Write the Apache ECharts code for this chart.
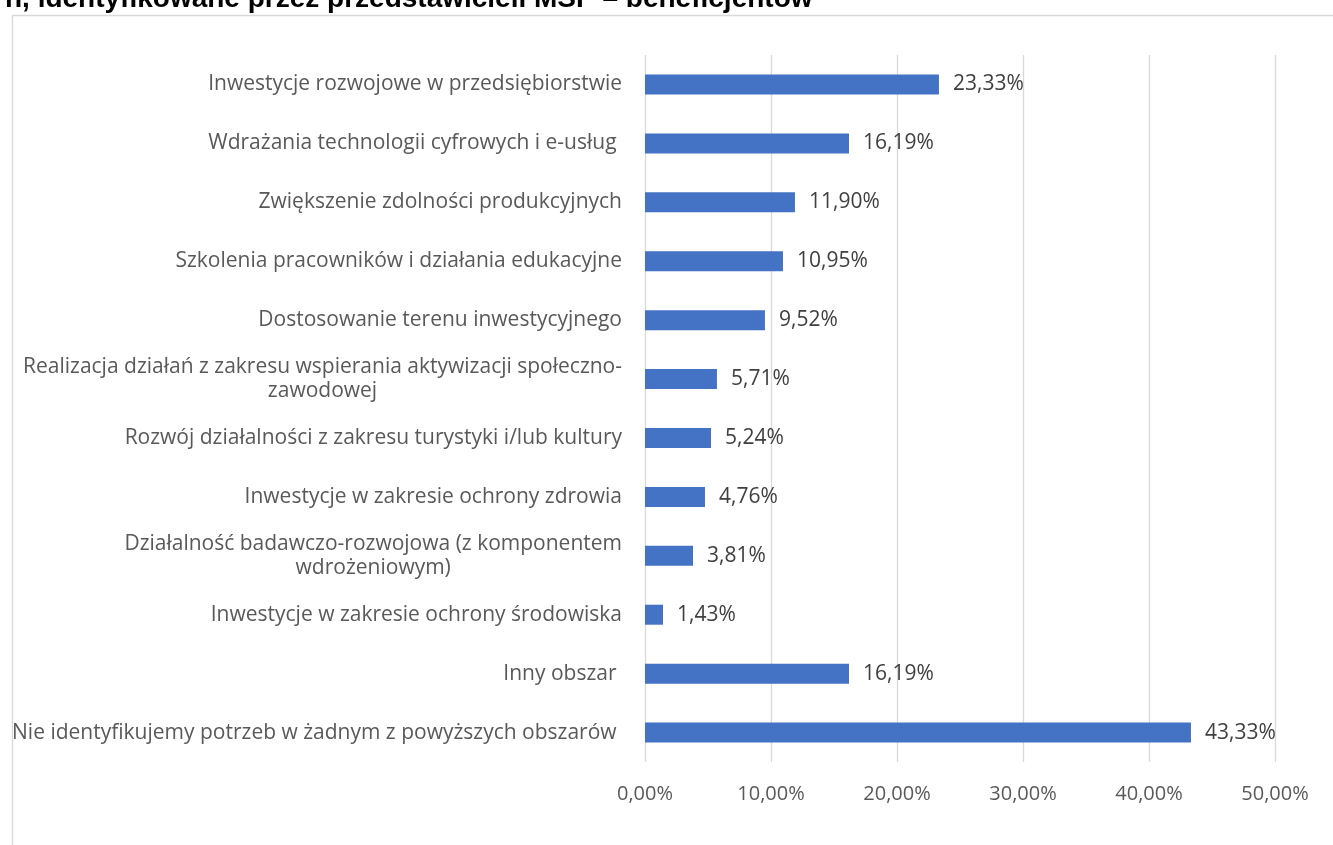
<!DOCTYPE html>
<html>
<head>
<meta charset="utf-8">
<script src="https://cdn.jsdelivr.net/npm/echarts@6/dist/echarts.min.js"></script>
<style>
  html, body { margin: 0; padding: 0; background: #fff; }
  #main { width: 1333px; height: 845px; }
</style>
</head>
<body>
<div id="main"></div>
<script>
// kategorie od góry do dołu
var categories = [
    'Inwestycje rozwojowe w przedsiębiorstwie',
    'Wdrażania technologii cyfrowych i e-usług ',
    'Zwiększenie zdolności produkcyjnych',
    'Szkolenia pracowników i działania edukacyjne',
    'Dostosowanie terenu inwestycyjnego',
    'Realizacja działań z zakresu wspierania aktywizacji społeczno-\nzawodowej',
    'Rozwój działalności z zakresu turystyki i/lub kultury',
    'Inwestycje w zakresie ochrony zdrowia',
    'Działalność badawczo-rozwojowa (z komponentem\nwdrożeniowym)',
    'Inwestycje w zakresie ochrony środowiska',
    'Inny obszar ',
    'Nie identyfikujemy potrzeb w żadnym z powyższych obszarów '
]
var values = [23.33, 16.19, 11.90, 10.95, 9.52, 5.71, 5.24, 4.76, 3.81, 1.43, 16.19, 43.33]
var titleText = 'n, identyfikowane przez przedstawicieli MŚP – beneficjentów'

var FONT = 'Open Sans'

function pct(v) {
    return v.toFixed(2).replace('.', ',') + '%'
}

var chart = echarts.init(document.getElementById('main'))
var option = {
    animation: false,
    backgroundColor: '#fff',
    title: {
        text: titleText,
        left: 0,
        top: -20,
        textStyle: { fontFamily: 'Liberation Sans', fontSize: 28, fontWeight: 'bold', color: '#000' }
    },
    graphic: [{
        type: 'rect',
        left: 10,
        top: 13,
        shape: { width: 1400, height: 900 },
        style: { fill: 'none', stroke: '#d9d9d9', lineWidth: 1.3 },
        silent: true
    }],
    grid: { left: 645, right: 58, top: 55, bottom: 83, outerBoundsMode: 'none', containLabel: false },
    xAxis: {
        type: 'value',
        min: 0,
        max: 50,
        interval: 10,
        axisLine: { show: false },
        axisTick: { show: false },
        splitLine: { lineStyle: { color: '#d9d9d9', width: 1.3 } },
        axisLabel: {
            margin: 22,
            color: '#595959',
            fontFamily: FONT,
            fontSize: 20,
            formatter: function (v) { return pct(v) }
        }
    },
    yAxis: {
        type: 'category',
        inverse: true,
        data: categories,
        axisLine: { show: false },
        axisTick: { show: false },
        axisLabel: {
            margin: 23,
            color: '#595959',
            fontFamily: FONT,
            fontSize: 21,
            lineHeight: 24,
            formatter: function (v) {
                if (v.indexOf('\n') < 0) return v
                return v.split('\n').map(function (l) { return '{c|' + l + '}' }).join('\n')
            },
            rich: {
                c: { align: 'center', color: '#595959', fontFamily: FONT, fontSize: 21, lineHeight: 24 }
            }
        }
    },
    series: [{
        type: 'bar',
        data: values,
        barWidth: 20,
        itemStyle: { color: '#4472C4' },
        label: {
            show: true,
            position: 'right',
            distance: 14,
            color: '#404040',
            fontFamily: FONT,
            fontSize: 21,
            formatter: function (p) { return pct(p.value) }
        }
    }]
}
chart.setOption(option)
</script>
</body>
</html>
